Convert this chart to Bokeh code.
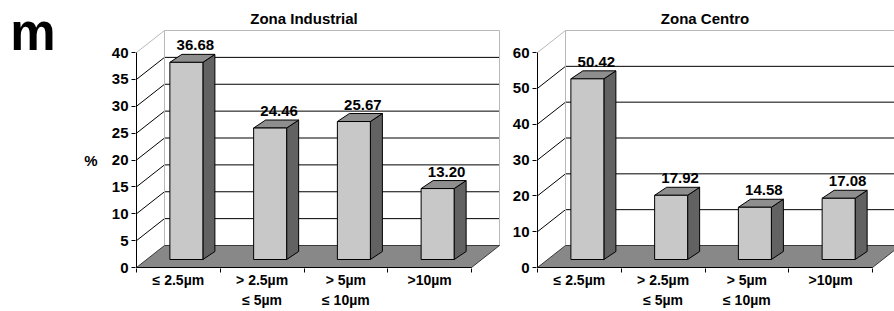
from bokeh.plotting import figure
from bokeh.layouts import row
from bokeh.models import Range1d, FixedTicker, LinearAxis
from bokeh.embed import file_html
from bokeh.resources import INLINE
from bokeh.core.properties import value

# ---------------- data ----------------
panel_letter = "m"
y_axis_label = "%"
titles = ["Zona Industrial", "Zona Centro"]
category_line1 = ["≤ 2.5µm", "> 2.5µm", "> 5µm", ">10µm"]
category_line2 = ["", "≤ 5µm", "≤ 10µm", ""]
industrial_pct = [36.68, 24.46, 25.67, 13.20]
centro_pct = [50.42, 17.92, 14.58, 17.08]
industrial_ticks = [0, 5, 10, 15, 20, 25, 30, 35, 40]
centro_ticks = [0, 10, 20, 30, 40, 50, 60]
label_pos_pct = 20      # where the "%" sits on the value axis
letter_pos_pct = 45     # where the panel letter sits on the value axis

# ---------------- layout / style (pixels) ----------------
FONT = "Liberation Sans"
FIG_H = 311
BORDER_BOTTOM = 43
FRAME_H = FIG_H - BORDER_BOTTOM
AXIS_H_PX = 215          # pixel height of the value axis
CAT_PX = 83.75           # pixel width of one category
WALL_DX, WALL_DY = 28, 22
BAR_FRONT_DX, BAR_FRONT_DY = 8, 8
BAR_DEPTH_DX, BAR_DEPTH_DY = 12, 8
BAR_W_PX = 33
LABEL_DX, LABEL_GAP = 9, 9
TITLE_RISE_PX = 249
FRONT_C = "#c8c8c8"
SIDE_C = "#626262"
TOP_C = "#8e8e8e"
FLOOR_C = "#888888"
WALL_EDGE_C = "#b8b8b8"


def text_axis(ticks, labels, size, standoff):
    return LinearAxis(ticker=FixedTicker(ticks=ticks, minor_ticks=[]),
                      major_label_overrides={t: s for t, s in zip(ticks, labels)},
                      axis_line_color=None, major_tick_line_color=None,
                      minor_tick_line_color=None, major_tick_out=0, major_tick_in=0,
                      minor_tick_out=0, minor_tick_in=0, major_label_standoff=standoff,
                      major_label_text_font=FONT, major_label_text_font_style="bold",
                      major_label_text_font_size=size, major_label_text_color="black")


def make_panel(title, vals, ticks, width, border_left, first):
    ytop = ticks[-1]
    ku = AXIS_H_PX / ytop
    kc = CAT_PX
    n = len(vals)
    p = figure(width=width, height=FIG_H, output_backend="svg", toolbar_location=None,
               x_range=Range1d(-1 / kc, (width - border_left - 1) / kc),
               y_range=Range1d(-1 / ku, (FRAME_H - 1) / ku),
               min_border_left=border_left, min_border_right=0,
               min_border_top=0, min_border_bottom=BORDER_BOTTOM,
               x_axis_type=None, y_axis_type=None)
    p.outline_line_color = None
    p.background_fill_color = "white"
    p.border_fill_color = "white"

    # value axis (ticks + labels)
    yaxis = LinearAxis(ticker=FixedTicker(ticks=ticks, minor_ticks=[]),
                       axis_line_color=None, major_tick_out=4, major_tick_in=0,
                       minor_tick_out=0, minor_tick_in=0, major_tick_line_color="black",
                       major_label_standoff=3, major_label_text_font=FONT,
                       major_label_text_font_style="bold", major_label_text_font_size="15px",
                       major_label_text_color="black")
    p.add_layout(yaxis, "left")
    if first:
        p.add_layout(text_axis([label_pos_pct], [y_axis_label], "15px", 11), "left")
        p.add_layout(text_axis([letter_pos_pct], [panel_letter], "51px", 26), "left")

    # category axis: tick marks at boundaries, first line of labels
    centers = [i + 0.5 for i in range(n)]
    xaxis = LinearAxis(ticker=FixedTicker(ticks=centers, minor_ticks=list(range(n + 1))),
                       major_label_overrides={c: lab for c, lab in zip(centers, category_line1)},
                       axis_line_color=None, major_tick_out=0, major_tick_in=0,
                       minor_tick_out=4, minor_tick_in=0, minor_tick_line_color="black",
                       major_label_standoff=-1, major_label_text_font=FONT,
                       major_label_text_font_style="bold", major_label_text_font_size="14px",
                       major_label_text_color="black")
    p.add_layout(xaxis, "below")
    # second line of category labels
    p.add_layout(text_axis(centers, category_line2, "14px", 1), "below")

    wdx, wdy = WALL_DX / kc, WALL_DY / ku
    xend = n + wdx
    inner = ticks[1:-1]

    # back wall
    p.patch([wdx, xend, xend, wdx], [wdy, wdy, ytop + wdy, ytop + wdy],
            fill_color="white", line_color=None)
    p.segment(x0=[wdx] * len(inner), y0=[t + wdy for t in inner],
              x1=[xend] * len(inner), y1=[t + wdy for t in inner],
              line_color="black", line_width=1)
    # side wall diagonals
    p.segment(x0=[0] * len(inner), y0=inner, x1=[wdx] * len(inner),
              y1=[t + wdy for t in inner], line_color="black", line_width=1)
    # wall outer edges
    p.multi_line(xs=[[0, wdx, xend, xend], [wdx, wdx]],
                 ys=[[ytop, ytop + wdy, ytop + wdy, wdy], [wdy, ytop + wdy]],
                 line_color=WALL_EDGE_C, line_width=1)
    # floor
    p.patch([0, n, xend, wdx], [0, 0, wdy, wdy], fill_color=FLOOR_C,
            line_color="#3a3a3a", line_width=1)
    # axis lines
    p.segment(x0=[0, 0], y0=[0, 0], x1=[n, 0], y1=[0, ytop], line_color="black", line_width=1)

    # bars
    fdx, fdy = BAR_FRONT_DX / kc, BAR_FRONT_DY / ku
    ddx, ddy = BAR_DEPTH_DX / kc, BAR_DEPTH_DY / ku
    bw = BAR_W_PX / kc
    fronts_x, fronts_y, sides_x, sides_y, tops_x, tops_y = [], [], [], [], [], []
    for i, v in enumerate(vals):
        xl = i + 0.5 + fdx - bw / 2
        xr = xl + bw
        y0, y1 = fdy, fdy + v
        fronts_x.append([xl, xr, xr, xl]); fronts_y.append([y0, y0, y1, y1])
        sides_x.append([xr, xr + ddx, xr + ddx, xr]); sides_y.append([y0, y0 + ddy, y1 + ddy, y1])
        tops_x.append([xl, xr, xr + ddx, xl + ddx]); tops_y.append([y1, y1, y1 + ddy, y1 + ddy])
    p.patches(sides_x, sides_y, fill_color=SIDE_C, line_color="black", line_width=1)
    p.patches(tops_x, tops_y, fill_color=TOP_C, line_color="black", line_width=1)
    p.patches(fronts_x, fronts_y, fill_color=FRONT_C, line_color="black", line_width=1)

    # value labels
    p.text(x=[i + 0.5 + fdx + LABEL_DX / kc for i in range(n)],
           y=[v + fdy + ddy + LABEL_GAP / ku for v in vals],
           text=[f"{v:.2f}" for v in vals], text_align="center", text_baseline="alphabetic",
           text_font=value(FONT), text_font_style="bold", text_font_size="15px",
           text_color="black")

    # title
    p.text(x=[n / 2], y=[TITLE_RISE_PX / ku], text=[title], text_align="center",
           text_baseline="middle", text_font=value(FONT), text_font_style="bold",
           text_font_size="15px", text_color="black")
    return p


p1 = make_panel(titles[0], industrial_pct, industrial_ticks, 502, 135, True)
p2 = make_panel(titles[1], centro_pct, centro_ticks, 392, 34, False)
layout = row(p1, p2)

open("out.html", "w").write(file_html(layout, INLINE))
